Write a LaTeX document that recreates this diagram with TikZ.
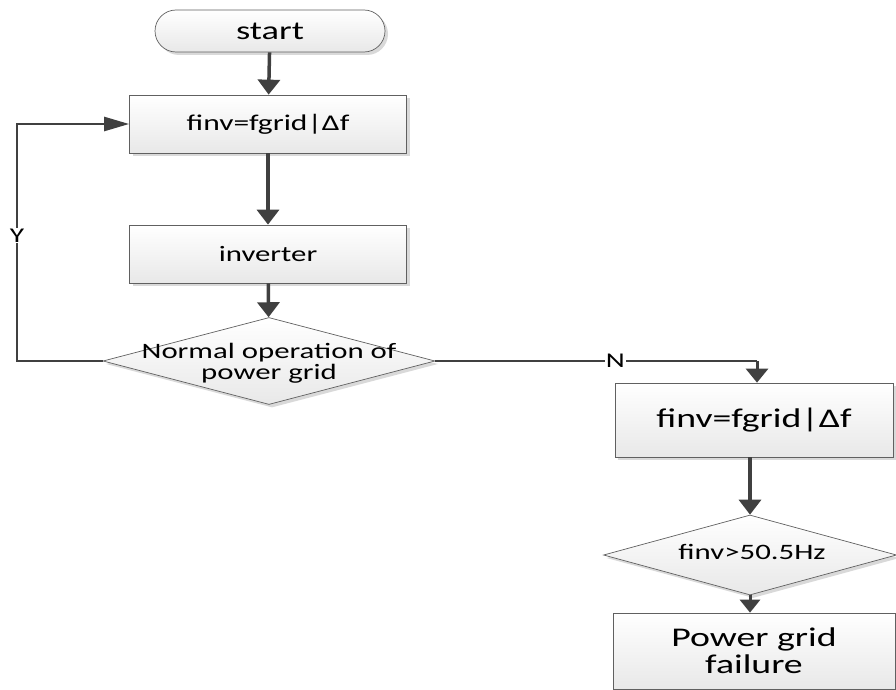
\documentclass[tikz,border=0pt]{standalone}
\usepackage{fontspec}
\setmainfont{Carlito}
\usetikzlibrary{shapes.geometric,shapes.misc,arrows.meta,shadows}
\newcommand\wtext[1]{\scalebox{1.4}[1]{#1}}
\begin{document}
\begin{tikzpicture}[x=1pt,y=-1pt,
  shape base/.style={draw=gray!75!black, line width=0.7pt, top color=white, bottom color=gray!18,
    drop shadow={shadow xshift=3pt,shadow yshift=-3pt,fill=gray!30,opacity=1}, inner sep=0pt, align=center},
  box/.style={shape base, rectangle, minimum width=277pt, minimum height=58pt},
  term/.style={shape base, rounded rectangle, minimum width=230pt, minimum height=42pt},
  dia/.style={shape base, diamond},
  conn/.style={draw=black!75, line width=3.5pt, -{Triangle[length=15pt,width=22pt]}},
  loopline/.style={draw=black!75, line width=2.5pt},
  nline/.style={draw=black!75, line width=1.5pt},
  lbl/.style={fill=white, inner sep=1pt, font=\fontsize{21}{22}\selectfont}
]
\useasboundingbox (0,0) rectangle (896,690);

\node[term, font=\fontsize{26}{28}\selectfont] (start) at (270,31) {\wtext{start}};
\node[box, font=\fontsize{22.5}{24}\selectfont] (b1) at (268,124) {\wtext{finv=fgrid|Δf}};
\node[box, font=\fontsize{22}{24}\selectfont] (b2) at (268,254) {\wtext{inverter}};
\node[dia, minimum width=332pt, minimum height=87pt] (d1) at (269,361) {};
\node[font=\fontsize{22}{21}\selectfont, align=center] (t1) at (269,363) {\wtext{Normal operation of}\\\wtext{power grid}};
\node[box, minimum width=278pt, minimum height=74pt, font=\fontsize{27}{29}\selectfont] (b3) at (754,420) {\wtext{finv=fgrid|Δf}};
\node[dia, minimum width=293pt, minimum height=80pt] (d2) at (750,555) {};
\node[font=\fontsize{22}{24}\selectfont] (t2) at (752,552) {\wtext{finv>50.5Hz}};
\node[box, minimum width=282pt, minimum height=76pt, font=\fontsize{27}{27}\selectfont] (b4) at (754,651) {\wtext{Power grid}\\\wtext{failure}};

\draw[conn] (start) -- (b1);
\draw[conn] (b1) -- (b2);
\draw[conn] (b2) -- (d1);
\coordinate (yl) at (17,361);
\coordinate (yt) at (17,124);
\draw[loopline, -{Triangle[length=25pt,width=14pt]}] (d1.west) -- (yl) -- node[lbl, pos=0.53]{\wtext{Y}} (yt) -- (b1.west);
\coordinate (nr) at (757,361);
\draw[nline] (d1.east) -- node[lbl, pos=0.56]{\wtext{N}} (nr);
\draw[draw=black!75, line width=3pt, -{Triangle[length=14pt,width=22pt]}] (nr) -- (nr |- b3.north);
\draw[conn] (b3.south -| d2.north) -- (d2.north);
\draw[draw=black!75, line width=3pt, -{Triangle[length=13pt,width=20pt]}] (d2.south) -- (d2.south |- b4.north);
\end{tikzpicture}
\end{document}
